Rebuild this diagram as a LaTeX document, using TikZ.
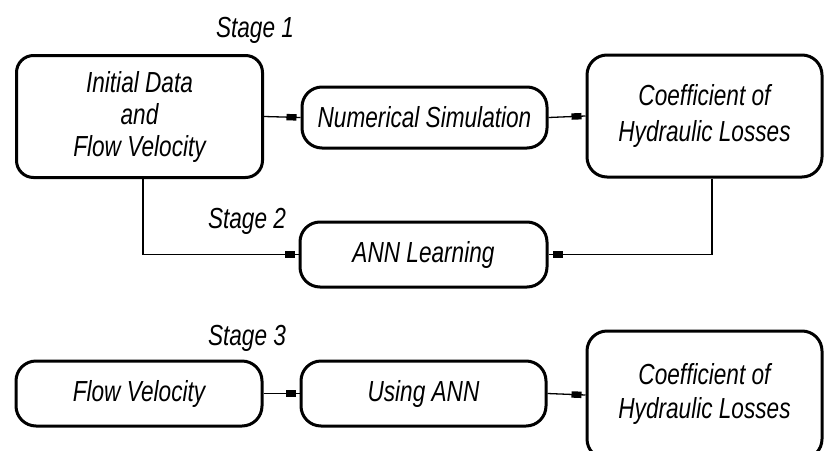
\documentclass[tikz,border=0pt]{standalone}
\usepackage{fontspec}
\newfontfamily\isofont{Liberation Sans}[FakeStretch=0.78]
\usetikzlibrary{decorations.markings}
\begin{document}
\begin{tikzpicture}[x=1pt,y=-1pt,
  txt/.style={font=\isofont\itshape\fontsize{29}{32}\selectfont},
  box/.style={txt,draw,line width=3pt,rounded corners=17pt,align=center,inner sep=0pt},
  pill/.style={box,rounded corners=20pt},
  conn/.style={line width=1.3pt,
    decoration={markings, mark=at position -4pt with {\fill (-10pt,-3.2pt) rectangle (0pt,3.2pt);}},
    postaction=decorate}]
\useasboundingbox (0,0) rectangle (824,450);
\fill[white] (0,0) rectangle (824,450);
\clip (0,0) rectangle (824,450);

% Stage 1
\node[txt] (s1) at (255,30) {Stage 1};
\node[box,minimum width=246pt,minimum height=122pt] (init) at (139.5,116.5)
  {Initial Data\\and\\Flow Velocity};
\node[pill,minimum width=245pt,minimum height=61pt] (sim) at (424.5,117.5) {Numerical Simulation};
\node[box,rounded corners=20pt,minimum width=235pt,minimum height=122pt,
  font=\isofont\itshape\fontsize{29}{36}\selectfont] (coef1) at (704.5,116)
  {Coefficient of\\Hydraulic Losses};

% Stage 2
\node[txt] (s2) at (247,221) {Stage 2};
\node[pill,minimum width=247pt,minimum height=65pt] (ann) at (423.5,254.5) {ANN Learning};

% Stage 3
\node[txt] (s3) at (247,338) {Stage 3};
\node[pill,minimum width=246pt,minimum height=65pt] (flow) at (139,393.5) {Flow Velocity};
\node[pill,minimum width=245pt,minimum height=65pt] (using) at (423.5,393.5) {Using ANN};
\node[box,rounded corners=20pt,minimum width=235pt,minimum height=128pt,
  font=\isofont\itshape\fontsize{29}{34}\selectfont] (coef2) at (704.5,395)
  {\raisebox{6pt}{\begin{tabular}{@{}c@{}}Coefficient of\\Hydraulic Losses\end{tabular}}};

% connectors
\draw[conn] (init.east) -- (sim.west);
\draw[conn] (sim.east) -- (coef1.west);
\draw[conn] ([xshift=3.5pt]init.south) |- (ann.west);
\draw[conn] ([xshift=7.5pt]coef1.south) |- (ann.east);
\draw[conn] (flow.east) -- (using.west);
\draw[conn] (using.east) -- (coef2.west);
\end{tikzpicture}
\end{document}
